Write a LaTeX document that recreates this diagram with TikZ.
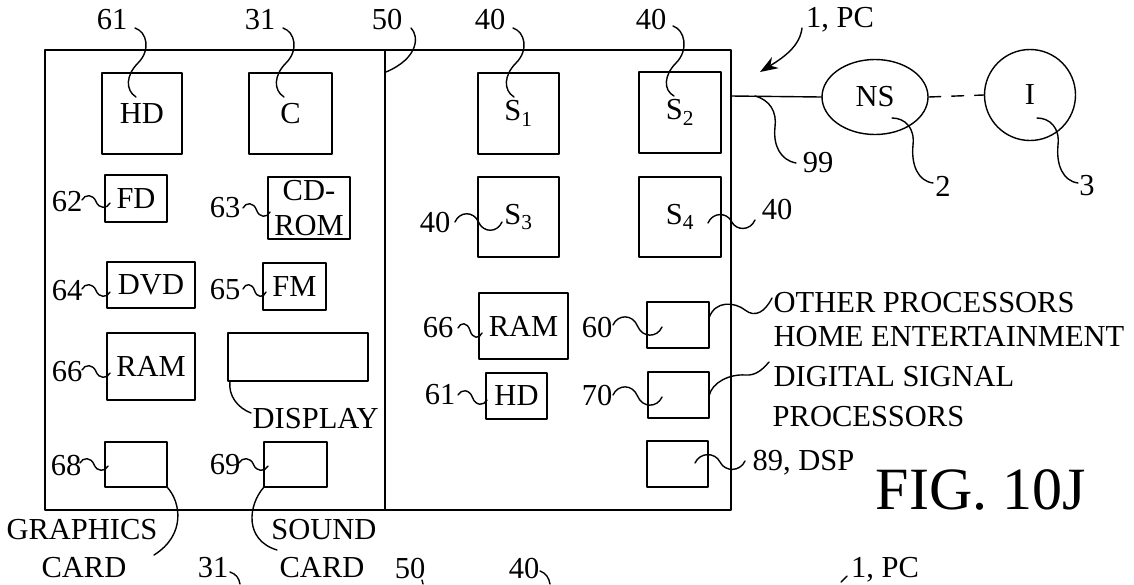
\documentclass[tikz,border=0pt]{standalone}
\usepackage{fontspec}
\setmainfont{Liberation Serif}
\usetikzlibrary{shapes.geometric,arrows.meta,calc}
\newcommand\labfont{\fontsize{30.5}{35}\selectfont}
\begin{document}
\begin{tikzpicture}[x=1pt,y=-1pt,line width=1.4pt,line cap=round,line join=round,
  box/.style={draw,inner sep=0pt,font=\labfont,align=center},
  lab/.style={inner sep=0pt,font=\labfont},
  wave/.style={to path={let \p1=(\tikztostart),\p2=(\tikztotarget),\n1={\x2-\x1} in
     .. controls (\x1+0.1*\n1*1pt,\y1+#1) and (\x1+0.4*\n1*1pt,\y1+#1) .. (\x1+0.5*\n1*1pt,{(\y1+\y2)/2})
     .. controls (\x1+0.6*\n1*1pt,\y2-#1) and (\x1+0.9*\n1*1pt,\y2-#1) .. (\tikztotarget)}},
  wave/.default=8pt]
\useasboundingbox (0,0) rectangle (1134,584);
% outer computer box
\node[draw,inner sep=0pt,minimum width=686,minimum height=460] (pc) at (388,280) {};
\coordinate (dtop) at (385,50);
\coordinate (dbot) at (385,510);
\draw (dtop) -- (dbot);
% left panel boxes
\node[box,minimum width=80,minimum height=81] (hd) at (142,113.5) {HD};
\node[box,minimum width=83,minimum height=81] (c) at (290.5,113.5) {C};
\node[box,minimum width=62,minimum height=47] (fd) at (136,198.5) {FD};
\node[box,minimum width=82,minimum height=62] (cd) at (309,208) {CD-\\ROM};
\node[box,minimum width=88,minimum height=46] (dvd) at (151,285) {DVD};
\node[box,minimum width=63,minimum height=47] (fm) at (294.5,286.5) {FM};
\node[box,minimum width=88,minimum height=67] (raml) at (151,366.5) {RAM};
\node[box,minimum width=140,minimum height=48] (disp) at (298,357) {};
\node[box,minimum width=62,minimum height=45] (gc) at (136,464.5) {};
\node[box,minimum width=63,minimum height=45] (sc) at (295.5,464.5) {};
% right panel boxes
\node[box,minimum width=81,minimum height=81] (s1) at (518.5,113.5) {S\textsubscript{1}};
\node[box,minimum width=82,minimum height=81] (s2) at (680,112.5) {S\textsubscript{2}};
\node[box,minimum width=81,minimum height=80] (s3) at (518.5,217) {S\textsubscript{3}};
\node[box,minimum width=82,minimum height=80] (s4) at (680,217) {S\textsubscript{4}};
\node[box,minimum width=89,minimum height=66] (ramr) at (523.5,326) {RAM};
\node[box,minimum width=62,minimum height=46] (op) at (678,325) {};
\node[box,minimum width=61,minimum height=46] (hdr) at (516.5,396) {HD};
\node[box,minimum width=61,minimum height=46] (he) at (678.5,395) {};
\node[box,minimum width=61,minimum height=46] (dsp) at (677.5,464) {};
% network
\node[draw,ellipse,inner sep=0pt,minimum width=106,minimum height=75,font=\labfont] (ns) at (875,97) {NS};
\node[draw,circle,inner sep=0pt,minimum size=91,font=\labfont] (inet) at (1030,95) {I};
\coordinate (pcout) at (731,96);
\draw (pcout) -- (ns.west);
\draw[dash pattern=on 12pt off 11pt] (ns.east) -- (inet.west);
% top labels
\node[lab] (l61) at (112,20) {61};
\node[lab] (l31) at (260,20) {31};
\node[lab] (l50) at (387,20) {50};
\node[lab] (l40a) at (490,20) {40};
\node[lab] (l40b) at (651,20) {40};
\node[lab] (lpc) at (840,20) {1, PC};
\draw (135,28) .. controls (147,32) and (151,50) .. (138,63) .. controls (126,75) and (125,90) .. (136,97);
\draw (283,28) .. controls (295,32) and (299,50) .. (286,63) .. controls (274,75) and (273,90) .. (284,97);
\draw (513,28) .. controls (525,32) and (529,50) .. (516,63) .. controls (504,75) and (503,90) .. (514,97);
\draw (673,26) .. controls (685,30) and (689,50) .. (676,63) .. controls (664,75) and (663,90) .. (674,96);
\draw (411,28) .. controls (419,36) and (419,58) .. (386,72);
\draw[-{Stealth[length=18pt,width=13pt]}] (802,28) .. controls (800,45) and (786,56) .. (760,72);
% network labels
\node[lab] (l99) at (818,163) {99};
\node[lab] (l2) at (943,186) {2};
\node[lab] (l3) at (1087,186) {3};
\draw (755,96) .. controls (770,100) and (777,112) .. (775,127) .. controls (773,145) and (780,160) .. (796,163);
\draw (892,118) .. controls (905,118) and (915,128) .. (913,145) .. controls (911,165) and (918,181) .. (933,183);
\draw (1037,118) .. controls (1050,118) and (1060,128) .. (1058,145) .. controls (1056,165) and (1063,181) .. (1078,183);
% left panel labels
\node[lab] (l62) at (67,202) {62};
\node[lab] (l63) at (225,208) {63};
\node[lab] (l64) at (67,291) {64};
\node[lab] (l65) at (225,290) {65};
\node[lab] (l66a) at (67,372) {66};
\node[lab] (l68) at (66,465) {68};
\node[lab] (l69) at (225,465) {69};
\draw (82,200) to[wave=6pt] (110,203);
\draw (243,208) to[wave=6pt] (270,212);
\draw (82,289) to[wave=6pt] (110,292);
\draw (243,289) to[wave=6pt] (266,292);
\draw (82,370) to[wave=6pt] (110,373);
\draw (80,463) to[wave=6pt] (108,466);
\draw (239,463) to[wave=6pt] (268,466);
\node[lab,anchor=west] (ldisp) at (252,419) {DISPLAY};
\draw (230,381) .. controls (228,396) and (238,408) .. (251,413);
\node[lab] (lgr) at (82,530) {GRAPHICS};
\node[lab] (lgc) at (84,568) {CARD};
\node[lab] (lso) at (324,530) {SOUND};
\node[lab] (lsc) at (322,568) {CARD};
\draw (167,487) .. controls (181,502) and (186,535) .. (154,555);
\draw (264,487) .. controls (248,505) and (244,540) .. (277,550);
% right panel labels
\node[lab] (l40c) at (435,223) {40};
\node[lab] (l40d) at (777,210) {40};
\node[lab] (l66b) at (438,328) {66};
\node[lab] (l60) at (597,327) {60};
\node[lab] (l61b) at (440,395) {61};
\node[lab] (l70) at (597,395) {70};
\draw (455,222) to[wave=11pt] (502,222);
\draw (708,223) to[wave=11pt] (755,220);
\draw (458,328) to[wave=6pt] (482,333);
\draw (613,325) to[wave=11pt] (662,327);
\draw (458,395) to[wave=6pt] (487,400);
\draw (613,395) to[wave=11pt] (662,397);
\draw (695,463) to[wave=11pt] (745,461);
\node[lab,anchor=west] (ldsp) at (752,463) {89, DSP};
\node[lab,anchor=west] (lop) at (773,303) {OTHER PROCESSORS};
\node[lab,anchor=west] (lhe1) at (773,337) {HOME ENTERTAINMENT};
\node[lab,anchor=west] (lhe2) at (773,377) {DIGITAL SIGNAL};
\node[lab,anchor=west] (lhe3) at (772,417) {PROCESSORS};
\draw (709,318) .. controls (715,300) and (735,302) .. (745,310) .. controls (755,318) and (765,312) .. (772,298);
\draw (709,396) .. controls (712,382) and (730,374) .. (745,375) .. controls (756,376) and (763,369) .. (769,362);
\node[inner sep=0pt,font=\fontsize{60}{60}\selectfont] (fig) at (981,490) {FIG. 10J};
% fragments of next figure
\node[lab] (n31) at (213,568) {31};
\node[lab] (n50) at (410,568) {50};
\node[lab] (n40) at (524,568) {40};
\node[lab] (npc) at (885,570) {1, PC};
\draw (230,572) .. controls (236,574) and (239,578) .. (240,584);
\draw (422,580) -- (423,584);
\draw (540,571) .. controls (546,573) and (549,578) .. (550,584);
\draw (847,576) -- (841,582);
\end{tikzpicture}
\end{document}
